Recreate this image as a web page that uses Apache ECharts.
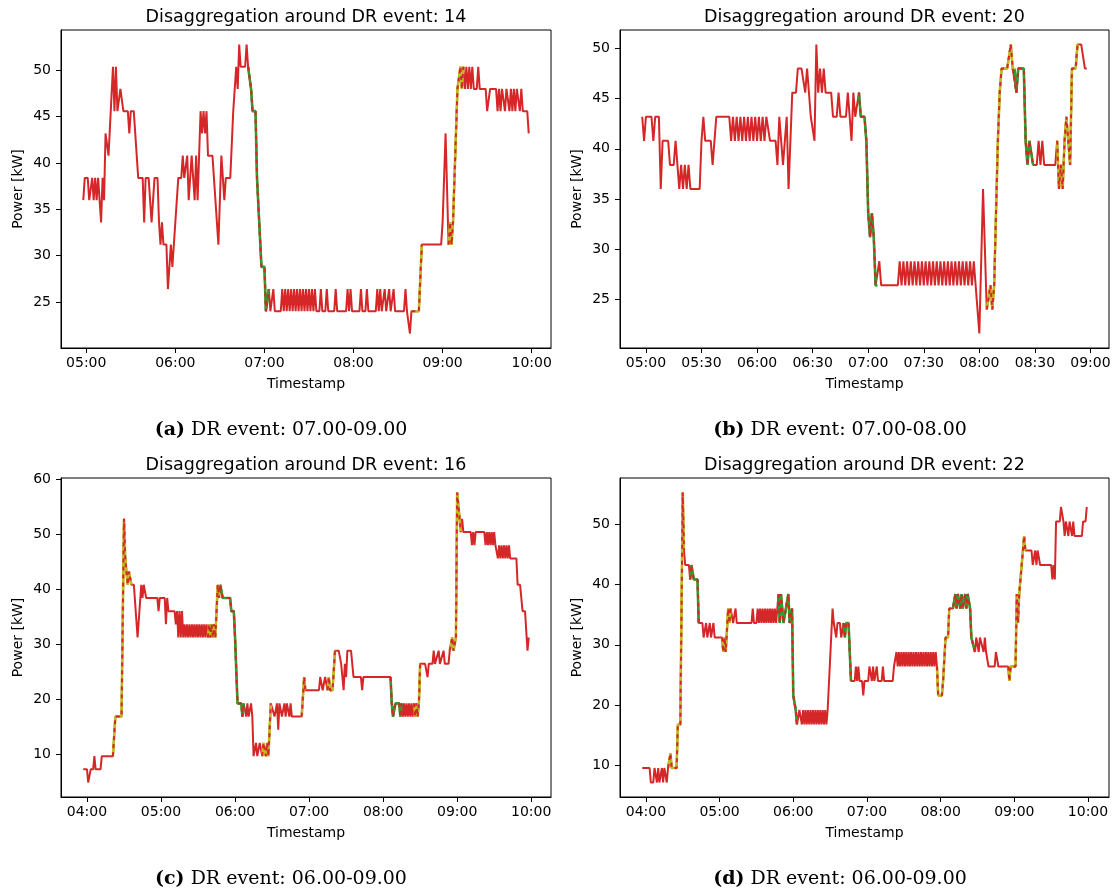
<!DOCTYPE html>
<html><head><meta charset="utf-8">
<script src="https://cdn.jsdelivr.net/npm/echarts@6/dist/echarts.min.js"></script>
<style>html,body{margin:0;padding:0;background:#fff}#c{width:1116px;height:896px}</style>
</head><body><div id="c"></div>
<script>
// ---------------- DATA ----------------
const panelTitles = ['Disaggregation around DR event: 14','Disaggregation around DR event: 20','Disaggregation around DR event: 16','Disaggregation around DR event: 22'];
const captionTags = ['(a)','(b)','(c)','(d)'];
const captionTexts = ['DR event: 07.00-09.00','DR event: 07.00-08.00','DR event: 06.00-09.00','DR event: 06.00-09.00'];
const xLabelName = 'Timestamp';
const yLabelName = 'Power [kW]';

const xTicksA = ['05:00','06:00','07:00','08:00','09:00','10:00'];
const xTicksB = ['05:00','05:30','06:00','06:30','07:00','07:30','08:00','08:30','09:00'];
const xTicksC = ['04:00','05:00','06:00','07:00','08:00','09:00','10:00'];
const xTicksD = ['04:00','05:00','06:00','07:00','08:00','09:00','10:00'];
const yTicksA = [25,30,35,40,45,50];
const yTicksB = [25,30,35,40,45,50];
const yTicksC = [10,20,30,40,50,60];
const yTicksD = [10,20,30,40,50];

// [time, power kW]
const powerA = [["04:58",36.0],["04:59",38.4],["05:01",38.4],["05:02",36.0],["05:03",36.0],["05:04",38.4],["05:05",36.0],["05:06",38.4],["05:07",36.0],["05:08",38.4],["05:10",33.6],["05:11",38.4],["05:12",36.0],["05:13",43.2],["05:14",43.2],["05:15",40.8],["05:16",40.8],["05:18",50.4],["05:19",45.6],["05:20",50.4],["05:21",45.6],["05:22",45.6],["05:23",48.0],["05:24",48.0],["05:25",45.6],["05:28",45.6],["05:29",43.2],["05:30",45.6],["05:32",45.6],["05:35",38.4],["05:38",38.4],["05:39",33.6],["05:40",38.4],["05:42",38.4],["05:44",33.6],["05:46",38.4],["05:48",38.4],["05:49",33.6],["05:50",31.2],["05:51",33.6],["05:52",31.2],["05:54",31.2],["05:55",26.4],["05:57",31.2],["05:58",28.8],["05:59",31.2],["06:02",38.4],["06:04",38.4],["06:05",40.8],["06:06",38.4],["06:07",38.4],["06:08",40.8],["06:09",36.0],["06:11",40.8],["06:12",38.4],["06:13",36.0],["06:14",40.8],["06:15",36.0],["06:16",40.8],["06:17",45.6],["06:18",43.2],["06:19",45.6],["06:20",43.2],["06:21",45.6],["06:22",40.8],["06:25",40.8],["06:29",31.2],["06:31",40.8],["06:33",36.0],["06:34",38.4],["06:37",38.4],["06:39",45.6],["06:40",45.6],["06:41",50.4],["06:42",48.0],["06:43",52.8],["06:44",50.4],["06:47",50.4],["06:48",52.8],["06:49",50.4],["06:50",50.4],["06:51",48.0],["06:52",45.6],["06:54",45.6],["06:55",38.4],["06:56",38.4],["06:58",28.8],["07:00",28.8],["07:01",24.0],["07:02",24.0],["07:03",26.4],["07:04",24.0],["07:05",24.0],["07:06",26.4],["07:07",24.0],["07:11",24.0],["07:12",26.4],["07:13",24.0],["07:14",26.4],["07:15",24.0],["07:16",26.4],["07:17",24.0],["07:18",26.4],["07:19",24.0],["07:20",26.4],["07:21",24.0],["07:22",26.4],["07:23",24.0],["07:24",26.4],["07:25",24.0],["07:26",26.4],["07:27",24.0],["07:28",26.4],["07:29",24.0],["07:30",26.4],["07:31",24.0],["07:32",26.4],["07:33",24.0],["07:34",26.4],["07:35",24.0],["07:37",24.0],["07:38",26.4],["07:39",24.0],["07:41",24.0],["07:42",26.4],["07:43",24.0],["07:47",24.0],["07:48",26.4],["07:49",24.0],["07:55",24.0],["07:56",26.4],["07:57",24.0],["07:58",26.4],["07:59",24.0],["08:04",24.0],["08:05",26.4],["08:06",24.0],["08:08",24.0],["08:09",26.4],["08:10",24.0],["08:15",24.0],["08:16",26.4],["08:17",24.0],["08:18",26.4],["08:19",24.0],["08:20",24.0],["08:21",26.4],["08:22",24.0],["08:23",24.0],["08:24",26.4],["08:25",24.0],["08:26",24.0],["08:27",26.4],["08:28",24.0],["08:34",24.0],["08:35",26.4],["08:36",24.0],["08:37",24.0],["08:38",21.6],["08:39",24.0],["08:44",24.0],["08:46",31.2],["08:59",31.2],["09:00",33.6],["09:01",33.6],["09:02",43.2],["09:03",43.2],["09:04",31.2],["09:05",33.6],["09:06",31.2],["09:07",33.6],["09:10",48.0],["09:11",48.0],["09:12",50.4],["09:13",48.0],["09:14",50.4],["09:15",48.0],["09:16",50.4],["09:17",48.0],["09:18",50.4],["09:19",48.0],["09:20",50.4],["09:21",48.0],["09:23",48.0],["09:24",50.4],["09:25",48.0],["09:29",48.0],["09:30",45.6],["09:31",45.6],["09:32",48.0],["09:36",48.0],["09:37",45.6],["09:38",48.0],["09:39",45.6],["09:40",48.0],["09:41",48.0],["09:42",45.6],["09:43",48.0],["09:44",48.0],["09:45",45.6],["09:46",48.0],["09:47",45.6],["09:48",48.0],["09:49",45.6],["09:50",48.0],["09:51",48.0],["09:52",45.6],["09:53",48.0],["09:54",45.6],["09:57",45.6],["09:58",43.2]];
const greenA = [["06:49","07:03"]];
const oliveA = [["08:39","08:46"],["09:04","09:14"]];

const powerB = [["04:58",43.2],["04:59",40.8],["05:00",43.2],["05:03",43.2],["05:04",40.8],["05:05",43.2],["05:07",43.2],["05:08",36.0],["05:09",40.8],["05:12",40.8],["05:13",38.4],["05:15",38.4],["05:16",40.8],["05:17",38.4],["05:18",36.0],["05:19",38.4],["05:20",36.0],["05:21",38.4],["05:22",36.0],["05:23",38.4],["05:24",36.0],["05:29",36.0],["05:30",40.8],["05:31",43.2],["05:32",40.8],["05:35",40.8],["05:36",38.4],["05:38",43.2],["05:45",43.2],["05:46",40.8],["05:47",43.2],["05:48",40.8],["05:49",43.2],["05:50",40.8],["05:51",43.2],["05:52",40.8],["05:53",43.2],["05:54",40.8],["05:55",43.2],["05:56",40.8],["05:57",43.2],["05:58",40.8],["05:59",43.2],["06:00",40.8],["06:01",43.2],["06:02",40.8],["06:03",43.2],["06:04",40.8],["06:05",43.2],["06:06",43.2],["06:07",40.8],["06:10",40.8],["06:11",38.4],["06:12",43.2],["06:14",38.4],["06:16",43.2],["06:17",36.0],["06:19",45.6],["06:21",45.6],["06:22",48.0],["06:24",48.0],["06:26",45.6],["06:27",48.0],["06:28",48.0],["06:29",43.2],["06:31",40.8],["06:32",50.4],["06:33",45.6],["06:34",48.0],["06:35",45.6],["06:36",48.0],["06:37",45.6],["06:40",45.6],["06:41",43.2],["06:43",43.2],["06:44",45.6],["06:45",43.2],["06:48",43.2],["06:49",45.6],["06:50",43.2],["06:51",40.8],["06:52",45.6],["06:53",43.2],["06:54",43.2],["06:55",45.6],["06:56",43.2],["06:58",43.2],["06:59",40.8],["07:00",33.6],["07:01",31.2],["07:02",33.6],["07:03",31.2],["07:04",26.4],["07:05",26.4],["07:06",28.8],["07:07",26.4],["07:16",26.4],["07:17",28.8],["07:18",26.4],["07:19",28.8],["07:20",26.4],["07:21",28.8],["07:22",26.4],["07:23",28.8],["07:24",26.4],["07:25",28.8],["07:26",26.4],["07:27",28.8],["07:28",26.4],["07:29",28.8],["07:30",26.4],["07:31",28.8],["07:32",26.4],["07:33",28.8],["07:34",26.4],["07:35",28.8],["07:36",26.4],["07:37",28.8],["07:38",26.4],["07:39",28.8],["07:40",26.4],["07:41",28.8],["07:42",26.4],["07:43",28.8],["07:44",26.4],["07:45",28.8],["07:46",26.4],["07:47",28.8],["07:48",26.4],["07:49",28.8],["07:50",26.4],["07:51",28.8],["07:52",26.4],["07:53",28.8],["07:54",26.4],["07:55",28.8],["07:56",26.4],["07:57",28.8],["07:58",26.4],["07:59",26.4],["08:00",21.6],["08:02",36.0],["08:04",24.0],["08:05",24.0],["08:06",26.4],["08:07",24.0],["08:08",26.4],["08:09",33.6],["08:10",40.8],["08:11",45.6],["08:12",48.0],["08:15",48.0],["08:17",50.4],["08:18",48.0],["08:19",48.0],["08:20",45.6],["08:21",48.0],["08:24",48.0],["08:25",40.8],["08:26",38.4],["08:27",40.8],["08:28",40.8],["08:29",38.4],["08:31",38.4],["08:32",40.8],["08:33",38.4],["08:34",40.8],["08:35",38.4],["08:41",38.4],["08:42",40.8],["08:43",36.0],["08:44",38.4],["08:45",36.0],["08:46",40.8],["08:47",43.2],["08:48",40.8],["08:49",38.4],["08:50",48.0],["08:52",48.0],["08:53",50.4],["08:55",50.4],["08:57",48.0],["08:58",48.0]];
const greenB = [["06:55","07:05"],["08:19","08:29"]];
const oliveB = [["08:04","08:19"],["08:42","08:53"]];

const powerC = [["03:57",7.2],["04:00",7.2],["04:01",4.8],["04:03",7.2],["04:05",7.2],["04:06",9.6],["04:07",7.2],["04:11",7.2],["04:12",9.6],["04:21",9.6],["04:23",16.8],["04:28",16.8],["04:30",52.8],["04:31",45.6],["04:32",43.2],["04:33",40.8],["04:34",43.2],["04:36",40.8],["04:38",40.8],["04:41",31.2],["04:44",40.8],["04:45",38.4],["04:46",40.8],["04:48",38.4],["04:57",38.4],["04:58",36.0],["04:59",38.4],["05:03",38.4],["05:04",33.6],["05:05",38.4],["05:06",36.0],["05:11",36.0],["05:12",33.6],["05:13",36.0],["05:14",31.2],["05:15",36.0],["05:16",31.2],["05:17",36.0],["05:18",31.2],["05:19",33.6],["05:20",31.2],["05:21",33.6],["05:22",31.2],["05:23",33.6],["05:24",31.2],["05:25",33.6],["05:26",31.2],["05:27",33.6],["05:28",31.2],["05:29",33.6],["05:30",31.2],["05:31",33.6],["05:32",31.2],["05:33",33.6],["05:34",31.2],["05:35",33.6],["05:36",31.2],["05:37",33.6],["05:38",31.2],["05:39",33.6],["05:40",31.2],["05:41",33.6],["05:42",31.2],["05:43",33.6],["05:44",31.2],["05:46",40.8],["05:47",38.4],["05:48",40.8],["05:50",38.4],["05:56",38.4],["05:57",36.0],["05:59",36.0],["06:00",31.2],["06:01",31.2],["06:02",19.2],["06:05",19.2],["06:06",16.8],["06:07",19.2],["06:09",16.8],["06:10",19.2],["06:11",16.8],["06:13",19.2],["06:14",16.8],["06:15",9.6],["06:17",12.0],["06:18",9.6],["06:20",12.0],["06:22",9.6],["06:23",12.0],["06:25",9.6],["06:26",12.0],["06:27",9.6],["06:29",19.2],["06:32",16.8],["06:34",19.2],["06:35",14.4],["06:36",19.2],["06:38",16.8],["06:40",19.2],["06:41",16.8],["06:42",19.2],["06:44",16.8],["06:45",19.2],["06:46",16.8],["06:54",16.8],["06:56",24.0],["06:57",21.6],["07:08",21.6],["07:09",24.0],["07:11",21.6],["07:13",24.0],["07:15",21.6],["07:16",24.0],["07:17",21.6],["07:19",21.6],["07:21",28.8],["07:24",28.8],["07:26",26.4],["07:28",21.6],["07:29",26.4],["07:30",24.0],["07:31",28.8],["07:34",28.8],["07:35",26.4],["07:36",24.0],["07:42",24.0],["07:43",21.6],["07:44",24.0],["08:06",24.0],["08:07",19.2],["08:08",16.8],["08:10",19.2],["08:13",19.2],["08:14",16.8],["08:15",19.2],["08:16",16.8],["08:17",19.2],["08:18",16.8],["08:19",19.2],["08:20",16.8],["08:21",19.2],["08:22",16.8],["08:23",19.2],["08:24",16.8],["08:25",19.2],["08:26",16.8],["08:27",19.2],["08:28",16.8],["08:29",19.2],["08:30",26.4],["08:34",26.4],["08:36",24.0],["08:37",26.4],["08:40",26.4],["08:41",28.8],["08:42",26.4],["08:45",28.8],["08:46",26.4],["08:49",28.8],["08:50",26.4],["08:53",26.4],["08:54",28.8],["08:56",31.2],["08:57",28.8],["08:59",31.2],["09:00",57.6],["09:01",55.2],["09:03",50.4],["09:04",52.8],["09:05",50.4],["09:11",50.4],["09:12",48.0],["09:13",50.4],["09:14",48.0],["09:15",50.4],["09:22",50.4],["09:23",48.0],["09:24",50.4],["09:25",48.0],["09:26",50.4],["09:27",48.0],["09:28",50.4],["09:29",48.0],["09:30",50.4],["09:31",48.0],["09:33",45.6],["09:34",48.0],["09:35",45.6],["09:36",48.0],["09:37",45.6],["09:38",48.0],["09:39",45.6],["09:40",48.0],["09:41",45.6],["09:42",48.0],["09:43",45.6],["09:48",45.6],["09:49",40.8],["09:51",40.8],["09:53",36.0],["09:55",36.0],["09:57",28.8],["09:58",31.2]];
const greenC = [["05:48","06:07"],["08:05","08:15"]];
const oliveC = [["04:21","04:36"],["05:38","05:47"],["06:21","06:30"],["06:54","06:57"],["07:15","07:21"],["08:25","08:31"],["08:54","09:03"]];

const powerD = [["03:57",9.6],["04:03",9.6],["04:04",7.2],["04:06",7.2],["04:07",9.6],["04:09",7.2],["04:10",9.6],["04:11",7.2],["04:13",9.6],["04:14",7.2],["04:15",9.6],["04:17",7.2],["04:18",9.6],["04:20",12.0],["04:21",9.6],["04:25",9.6],["04:26",16.8],["04:28",16.8],["04:30",55.2],["04:31",45.6],["04:32",43.2],["04:35",43.2],["04:36",40.8],["04:37",43.2],["04:39",40.8],["04:42",40.8],["04:43",33.6],["04:46",33.6],["04:47",31.2],["04:49",33.6],["04:50",31.2],["04:52",33.6],["04:53",31.2],["04:55",33.6],["04:56",31.2],["05:02",31.2],["05:03",28.8],["05:04",31.2],["05:05",28.8],["05:06",28.8],["05:07",36.0],["05:08",33.6],["05:09",36.0],["05:11",33.6],["05:13",36.0],["05:14",33.6],["05:26",33.6],["05:27",36.0],["05:28",33.6],["05:30",33.6],["05:31",36.0],["05:32",33.6],["05:33",36.0],["05:34",33.6],["05:35",36.0],["05:36",33.6],["05:37",36.0],["05:38",33.6],["05:39",36.0],["05:40",33.6],["05:41",36.0],["05:42",33.6],["05:43",36.0],["05:44",33.6],["05:45",36.0],["05:46",33.6],["05:48",38.4],["05:49",33.6],["05:50",38.4],["05:52",33.6],["05:54",36.0],["05:56",38.4],["05:57",33.6],["05:59",36.0],["06:00",21.6],["06:02",19.2],["06:03",16.8],["06:05",19.2],["06:07",16.8],["06:08",19.2],["06:09",16.8],["06:10",19.2],["06:11",16.8],["06:12",19.2],["06:13",16.8],["06:14",19.2],["06:15",16.8],["06:16",19.2],["06:17",16.8],["06:18",19.2],["06:19",16.8],["06:20",19.2],["06:21",16.8],["06:22",19.2],["06:23",16.8],["06:24",19.2],["06:25",16.8],["06:26",19.2],["06:27",16.8],["06:28",19.2],["06:32",36.0],["06:33",33.6],["06:35",31.2],["06:36",33.6],["06:38",33.6],["06:39",31.2],["06:41",33.6],["06:42",31.2],["06:43",33.6],["06:45",33.6],["06:46",28.8],["06:47",24.0],["06:50",24.0],["06:51",26.4],["06:52",24.0],["06:53",26.4],["06:54",24.0],["06:56",24.0],["06:57",21.6],["06:58",24.0],["07:01",24.0],["07:02",26.4],["07:04",24.0],["07:05",26.4],["07:06",24.0],["07:07",24.0],["07:08",26.4],["07:09",24.0],["07:12",24.0],["07:13",26.4],["07:14",24.0],["07:21",24.0],["07:22",26.4],["07:24",28.8],["07:25",26.4],["07:26",28.8],["07:27",26.4],["07:28",28.8],["07:29",26.4],["07:30",28.8],["07:31",26.4],["07:32",28.8],["07:33",26.4],["07:34",28.8],["07:35",26.4],["07:36",28.8],["07:37",26.4],["07:38",28.8],["07:39",26.4],["07:40",28.8],["07:41",26.4],["07:42",28.8],["07:43",26.4],["07:44",28.8],["07:45",26.4],["07:46",28.8],["07:47",26.4],["07:48",28.8],["07:49",26.4],["07:50",28.8],["07:51",26.4],["07:52",28.8],["07:53",26.4],["07:54",28.8],["07:55",26.4],["07:56",28.8],["07:57",26.4],["07:58",21.6],["08:01",21.6],["08:02",24.0],["08:04",31.2],["08:06",31.2],["08:07",36.0],["08:10",36.0],["08:12",38.4],["08:13",36.0],["08:14",38.4],["08:16",36.0],["08:17",38.4],["08:18",36.0],["08:20",38.4],["08:21",36.0],["08:22",38.4],["08:24",36.0],["08:25",31.2],["08:26",31.2],["08:28",28.8],["08:29",31.2],["08:31",28.8],["08:32",31.2],["08:35",28.8],["08:36",31.2],["08:37",28.8],["08:39",26.4],["08:44",26.4],["08:45",28.8],["08:47",26.4],["08:55",26.4],["08:56",24.0],["08:57",26.4],["09:01",26.4],["09:02",38.4],["09:03",33.6],["09:04",38.4],["09:06",43.2],["09:08",48.0],["09:09",45.6],["09:14",45.6],["09:15",43.2],["09:17",45.6],["09:18",43.2],["09:19",45.6],["09:21",43.2],["09:30",43.2],["09:31",40.8],["09:32",43.2],["09:33",40.8],["09:34",50.4],["09:37",50.4],["09:38",52.8],["09:40",50.4],["09:41",48.0],["09:42",50.4],["09:44",48.0],["09:45",50.4],["09:47",48.0],["09:48",50.4],["09:49",48.0],["09:55",48.0],["09:56",50.4],["09:58",50.4],["09:59",52.8]];
const greenD = [["04:36","04:44"],["05:48","06:04"],["06:40","06:47"],["08:10","08:28"]];
const oliveD = [["04:18","04:31"],["05:01","05:10"],["07:57","08:09"],["08:55","09:09"]];

// ---------------- BUILD ----------------
const RED = '#d62728', GREEN = '#2ca02c', OLIVE = '#bcbd22';
const FONT = '"DejaVu Sans", sans-serif';
const toMin = s => { const p = s.split(':'); return (+p[0]) * 60 + (+p[1]); };
const fmt = m => { const h = Math.floor(m / 60), mm = Math.round(m - h * 60); return String(h).padStart(2, '0') + ':' + String(mm).padStart(2, '0'); };

const layout = [
  {left: 61, top: 30, width: 490, height: 318},
  {left: 620, top: 30, width: 489, height: 318},
  {left: 61, top: 478, width: 490, height: 319},
  {left: 620, top: 478, width: 489, height: 319}
];
const panels = [
  {series: powerA, green: greenA, olive: oliveA, xt: xTicksA, yt: yTicksA},
  {series: powerB, green: greenB, olive: oliveB, xt: xTicksB, yt: yTicksB},
  {series: powerC, green: greenC, olive: oliveC, xt: xTicksC, yt: yTicksC},
  {series: powerD, green: greenD, olive: oliveD, xt: xTicksD, yt: yTicksD}
];
const inWin = (t, wins) => wins.some(w => t >= toMin(w[0]) && t <= toMin(w[1]));

const grids = [], xAxes = [], yAxes = [], series = [], graphics = [];
panels.forEach((p, i) => {
  const g = layout[i];
  grids.push(Object.assign({show: true, borderColor: '#000', borderWidth: 1, backgroundColor: '#fff'}, g));
  const pts = p.series.map(d => [toMin(d[0]), d[1]]);
  const ts = pts.map(q => q[0]), vs = pts.map(q => q[1]);
  const t0 = Math.min(...ts), t1 = Math.max(...ts), v0 = Math.min(...vs), v1 = Math.max(...vs);
  const xt = p.xt.map(toMin);
  xAxes.push({
    type: 'value', gridIndex: i, min: t0 - (t1 - t0) * 0.05, max: t1 + (t1 - t0) * 0.05,
    axisLine: {show: true, onZero: false, lineStyle: {color: '#000', width: 1}},
    axisTick: {show: true, length: 5, lineStyle: {color: '#000', width: 1}, customValues: xt},
    axisLabel: {customValues: xt, formatter: v => fmt(v), color: '#000', fontSize: 14, fontFamily: FONT, margin: 8},
    splitLine: {show: false}
  });
  yAxes.push({
    type: 'value', gridIndex: i, min: v0 - (v1 - v0) * 0.05, max: v1 + (v1 - v0) * 0.05,
    axisLine: {show: true, onZero: false, lineStyle: {color: '#000', width: 1}},
    axisTick: {show: true, length: 5, lineStyle: {color: '#000', width: 1}, customValues: p.yt},
    axisLabel: {customValues: p.yt, color: '#000', fontSize: 14, fontFamily: FONT, margin: 10},
    splitLine: {show: false}
  });
  const base = {type: 'line', xAxisIndex: i, yAxisIndex: i, showSymbol: false, symbol: 'none', silent: true, animation: false, connectNulls: false};
  const mask = wins => pts.map(q => inWin(q[0], wins) ? q : [q[0], '-']);
  series.push(Object.assign({}, base, {data: pts, z: 2, lineStyle: {color: RED, width: 2}}));
  series.push(Object.assign({}, base, {data: mask(p.green), z: 3, lineStyle: {color: GREEN, width: 2.6}}));
  series.push(Object.assign({}, base, {data: mask(p.olive), z: 4, lineStyle: {color: OLIVE, width: 2.6}}));
  series.push(Object.assign({}, base, {data: mask(p.green.concat(p.olive)), z: 5, lineStyle: {color: RED, width: 2, type: [4, 4]}}));

  const cx = g.left + g.width / 2, cy = g.top + g.height / 2;
  graphics.push({type: 'text', x: cx, y: g.top - 13, style: {text: panelTitles[i], font: '17.5px "DejaVu Sans"', fill: '#000', textAlign: 'center', textVerticalAlign: 'middle'}});
  graphics.push({type: 'text', x: cx, y: g.top + g.height + 36, style: {text: xLabelName, font: '14px "DejaVu Sans"', fill: '#000', textAlign: 'center', textVerticalAlign: 'middle'}});
  graphics.push({type: 'text', x: g.left - 43, y: cy, rotation: Math.PI / 2, style: {text: yLabelName, font: '14px "DejaVu Sans"', fill: '#000', textAlign: 'center', textVerticalAlign: 'middle'}});
  const capX = i % 2 === 0 ? 281 : 840;
  const capY = g.top + g.height + 82;
  graphics.push({type: 'text', x: capX, y: capY, style: {
    text: '{b|' + captionTags[i] + '} ' + captionTexts[i],
    font: '19px "DejaVu Serif"', fill: '#000', textAlign: 'center', textVerticalAlign: 'middle',
    rich: {b: {fontWeight: 'bold', fontSize: 19, fontFamily: 'DejaVu Serif', fill: '#000'}}
  }});
});

const chart = echarts.init(document.getElementById('c'), null, {renderer: 'canvas'});
chart.setOption({
  animation: false,
  backgroundColor: '#fff',
  grid: grids, xAxis: xAxes, yAxis: yAxes, series: series, graphic: graphics
});
</script></body></html>
